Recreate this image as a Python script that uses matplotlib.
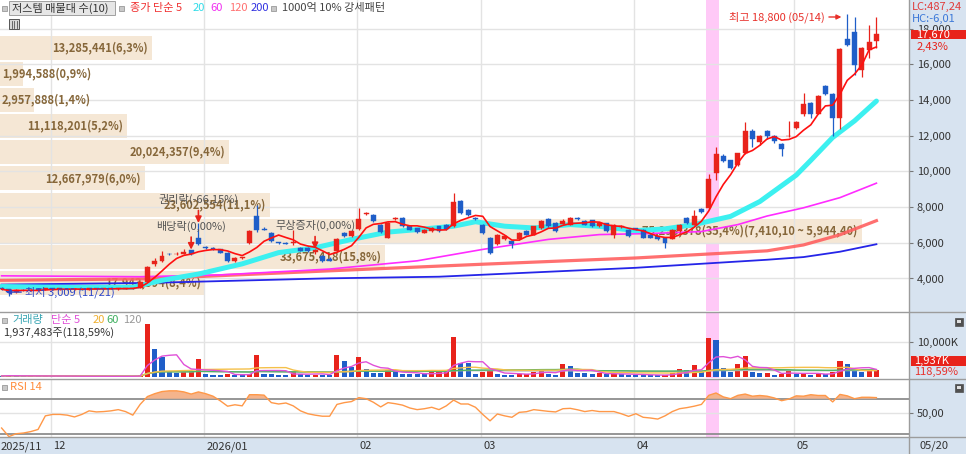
import numpy as np
import pandas as pd
import matplotlib
matplotlib.use("Agg")
import matplotlib.pyplot as plt
from matplotlib.patches import Rectangle
from matplotlib.lines import Line2D
import matplotlib.transforms as mtrans
from matplotlib.ticker import FuncFormatter

plt.rcParams['font.family'] = ['Noto Sans CJK KR', 'DejaVu Sans']

# ---------------- data (daily, 2025-11-20 .. 2026-05-20) ----------------
opens = [
    3450, 3400, 3250, 3350, 3330, 3370, 3350, 3440, 3400, 3420,
    3390, 3410, 3380, 3450, 3420, 3440, 3410, 3430, 3450, 3480,
    3800, 4800, 4990, 5380, 5350, 5400, 5580, 6280, 5760, 5730,
    5630, 5450, 4990, 5150, 5970, 7480, 6760, 6560, 6020, 5990,
    6000, 5730, 5720, 5480, 5260, 5100, 5540, 6560, 6380, 6750,
    7600, 7570, 7020, 6280, 7350, 7390, 6920, 6830, 6560, 6650,
    6920, 7020, 6920, 8360, 7850, 7400, 7020, 6280, 5910, 6190,
    6090, 6190, 6650, 6460, 6830, 7330, 7110, 7070, 7020, 7380,
    7200, 7290, 6920, 7110, 6460, 6880, 6740, 6830, 6740, 6460,
    6370, 6280, 6230, 6650, 7390, 7020, 7890, 7940, 9910, 10890,
    10620, 10340, 11020, 12280, 11630, 12240, 12000, 11540, 11960, 12430,
    13200, 13850, 13240, 14770, 14310, 13010, 17440, 17810, 15690, 16800,
    17300]
highs = [
    3500, 3420, 3400, 3420, 3400, 3420, 3480, 3480, 3450, 3460,
    3440, 3450, 3470, 3480, 3460, 3470, 3450, 3480, 3480, 3850,
    4700, 5170, 5540, 5420, 5480, 5650, 5620, 7110, 5800, 5760,
    5660, 5480, 5200, 5230, 6700, 8130, 6900, 6600, 6060, 6050,
    6700, 5760, 5760, 5650, 5300, 5200, 6250, 6600, 6700, 7940,
    7700, 7620, 7050, 7150, 7450, 7420, 6950, 6850, 6780, 6900,
    6950, 7050, 8770, 8400, 7900, 7450, 7050, 6300, 6480, 6420,
    6120, 6600, 6700, 6950, 7250, 7380, 7150, 7350, 7450, 7450,
    7250, 7300, 7150, 7130, 7050, 6980, 6800, 6850, 6760, 6480,
    6400, 6300, 6760, 7050, 7420, 7850, 7950, 9880, 11350, 11000,
    10650, 11050, 12740, 12400, 12050, 12300, 12050, 11600, 12830, 12800,
    14400, 13900, 14300, 14850, 14400, 16900, 18800, 18650, 16950, 18180,
    18650]
lows = [
    3380, 3009, 3200, 3300, 3290, 3330, 3340, 3380, 3360, 3380,
    3350, 3370, 3370, 3400, 3390, 3400, 3380, 3400, 3420, 3460,
    3780, 4700, 4950, 5300, 5330, 5380, 5300, 5880, 5680, 5600,
    5420, 4950, 4950, 5120, 5950, 6620, 6700, 6050, 5950, 5950,
    5900, 5520, 5500, 5400, 4950, 4960, 5500, 6300, 6350, 6700,
    7550, 7150, 6550, 6250, 7300, 6900, 6720, 6550, 6540, 6630,
    6620, 6700, 6880, 7600, 7500, 7290, 6500, 5360, 5880, 6150,
    5730, 6150, 6430, 6440, 6800, 6900, 6620, 7050, 7000, 7300,
    7000, 6900, 6900, 6620, 6280, 6850, 6350, 6720, 6250, 6250,
    6150, 5730, 6200, 6600, 7080, 7000, 7650, 7900, 9510, 10550,
    10150, 10300, 10990, 11350, 11500, 11800, 11600, 10890, 11900, 12350,
    13100, 13000, 13200, 14300, 12000, 12370, 17000, 15420, 15270, 16340,
    16900]
closes = [
    3400, 3250, 3350, 3330, 3370, 3350, 3440, 3400, 3420, 3390,
    3410, 3380, 3450, 3420, 3440, 3410, 3430, 3460, 3460, 3780,
    4620, 4990, 5260, 5350, 5390, 5480, 5360, 5910, 5720, 5640,
    5450, 4990, 5170, 5170, 6650, 6700, 6740, 6090, 5990, 5960,
    6060, 5540, 5560, 5620, 4990, 5000, 6190, 6370, 6650, 7330,
    7630, 7200, 6590, 7110, 7390, 6920, 6740, 6590, 6740, 6850,
    6650, 6800, 8310, 7670, 7570, 7310, 6560, 5450, 6460, 6380,
    5910, 6560, 6460, 6920, 7200, 6920, 6650, 7200, 7390, 7340,
    7020, 6920, 7110, 6650, 7020, 6920, 6370, 6740, 6280, 6280,
    6190, 6000, 6740, 7020, 7110, 7480, 7700, 9600, 10990, 10580,
    10210, 11020, 12240, 11820, 12000, 12000, 11690, 11260, 12000, 12790,
    13790, 13200, 14220, 14340, 13010, 16860, 17080, 15970, 16890, 17250,
    17670]
volumes_k = [
    300, 420, 350, 250, 300, 220, 380, 260, 240, 200,
    230, 180, 260, 210, 190, 170, 200, 230, 250, 480,
    15060, 7900, 5720, 1430, 1140, 1430, 1620, 4950, 760, 700,
    680, 750, 700, 480, 760, 6190, 950, 760, 480, 470,
    1620, 760, 660, 700, 660, 650, 6190, 4480, 2860, 5530,
    2380, 1240, 1140, 2100, 1430, 950, 760, 750, 740, 1430,
    1430, 1440, 11300, 3930, 3900, 935, 1400, 1680, 935, 650,
    470, 935, 940, 1400, 2340, 935, 470, 3550, 3000, 1120,
    1100, 750, 1120, 750, 935, 750, 650, 640, 630, 470,
    460, 470, 1120, 2340, 2060, 3270, 1400, 10940, 10470, 2620,
    1400, 3740, 5800, 1400, 1120, 1130, 470, 935, 1870, 935,
    940, 470, 935, 750, 1400, 4490, 3550, 2060, 1500, 1633.766,
    1937.483]
rsi14 = [
    29, 17, 21, 22, 24, 27, 46, 48, 48, 47,
    44.5, 48, 53, 51.5, 52, 53, 54.7, 52, 47, 62,
    73, 77, 80, 81, 81, 79.5, 76.5, 79.5, 77, 73.5,
    67, 59.5, 61.5, 60, 75.6, 75.6, 75, 64.5, 62.6, 64,
    60, 53, 49, 47, 45.5, 45.5, 62, 64.5, 66, 71.5,
    70, 65, 58.5, 64.5, 63, 61, 57, 54.7, 56, 58,
    54.7, 60, 68, 62.6, 62.6, 58, 48, 39, 48.6, 46,
    44, 50.9, 51.8, 54.7, 53.5, 52.3, 51.5, 56, 56.5, 54.5,
    52, 53.5, 52, 52, 52, 49, 45.3, 49, 44, 43,
    41.5, 46, 52, 56, 57.5, 59.5, 62, 74.7, 78, 72.5,
    70, 74.7, 76.5, 73.5, 74.5, 73.5, 71, 67.2, 69.5, 74,
    73.5, 75.6, 74.5, 74.5, 65.5, 76, 74, 70, 72, 72,
    71.5]

# moving averages (day index, value)
ma20_idx = [0, 10, 18, 22, 27, 33, 38, 43, 48, 53, 57, 62, 65, 69, 73, 78, 82, 87, 91, 95, 100, 104, 109, 111, 114, 117, 120]
ma20_val = [3550, 3500, 3510, 3900, 4250, 4820, 5450, 5720, 6190, 6600, 6740, 6930, 7180, 6930, 6830, 7020, 6920, 6680, 6780, 7020, 7480, 8310, 9790, 10620, 11900, 12830, 13940]
ma60_idx = [0, 19, 30, 45, 57, 66, 75, 82, 89, 96, 101, 105, 110, 115, 120]
ma60_val = [4150, 4100, 4200, 4530, 4990, 5630, 6190, 6460, 6520, 6630, 7020, 7500, 7960, 8530, 9340]
ma120_idx = [0, 20, 45, 66, 87, 96, 105, 110, 115, 120]
ma120_val = [3900, 3980, 4430, 4800, 5150, 5350, 5550, 5880, 6450, 7240]
ma200_idx = [0, 20, 45, 60, 87, 105, 110, 115, 120]
ma200_val = [3660, 3750, 4010, 4100, 4600, 5050, 5200, 5500, 5920]

# volume profile (매물대), bottom -> top
vp_volumes = [17943594, 33675418, 75293378, 23602554, 12667979, 20024357, 11118201, 2957888, 1994588, 13285441]
vp_pcts = [8.4, 15.8, 35.4, 11.1, 6.0, 9.4, 5.2, 1.4, 0.9, 6.3]
vp_low, vp_high = 3013.0, 17670.0

month_labels = ['2025/11', '12', '2026/01', '02', '03', '04', '05']
month_start = [0, 7, 28, 49, 66, 87, 109]
events_idx = [26, 27, 43]
events_txt = ['배당락(0,00%)', '권리락(-66,15%)', '무상증자(0,00%)']
low_date, high_date, last_date = '11/21', '05/14', '05/20'
highlight_days = [97, 98]
lc_hc = ['LC:487,24', 'HC:-6,01']

# ---------------- styling ----------------
W, H = 966, 454
RED, BLUE = '#e8231b', '#1f5ec8'
STRIP = '#d7e3f0'
GRID = '#e3e3e3'
BROWN = '#86673a'

def dc(s):
    return s.replace('.', ',')

fig = plt.figure(figsize=(W / 100, H / 100), dpi=100)

def fr(x0, y0, x1, y1):
    return [x0 / W, 1 - y1 / H, (x1 - x0) / W, (y1 - y0) / H]

fig.patches.append(Rectangle((909 / W, 0), (W - 909) / W, 1, transform=fig.transFigure,
                             fc=STRIP, ec='none', zorder=-2))
fig.patches.append(Rectangle((0, 0), 1, 17 / H, transform=fig.transFigure,
                             fc=STRIP, ec='none', zorder=-2))

ax = fig.add_axes(fr(0, 0, 909, 311))
axv = fig.add_axes(fr(0, 312, 909, 378), sharex=ax)
axr = fig.add_axes(fr(0, 379, 909, 437), sharex=ax)
axx = fig.add_axes(fr(0, 437, 909, 454), sharex=ax)

n = len(closes)
idx = np.arange(n)
o = np.array(opens, float); c = np.array(closes, float)
h = np.array(highs, float); l = np.array(lows, float)
v = np.array(volumes_k, float)
rsi = np.array(rsi14, float)
month_edges = np.array(month_start[1:]) - 0.25

for a in (ax, axv, axr, axx):
    for s in a.spines.values():
        s.set_visible(False)
    a.set_xticks(month_edges)
    a.tick_params(axis='x', length=0, labelbottom=False)
    a.set_axisbelow(True)
ax.set_xlim(-0.22, 124.47)

# highlight band
for a in (ax, axv, axr):
    a.axvspan(highlight_days[0] - 0.4, highlight_days[-1] + 0.4, color='#ffc9f7', zorder=0.3, lw=0)

# ---------------- main panel ----------------
ax.set_ylim(2179, 19602)
ax.set_yticks(np.arange(4000, 18001, 2000))
ax.yaxis.tick_right()
ax.yaxis.set_major_formatter(FuncFormatter(lambda x, p: f'{x:,.0f}'))
ax.tick_params(axis='y', length=3, width=0.8, color='#777777', pad=2.5, labelsize=8, labelcolor='#333333')
ax.grid(True, color=GRID, lw=1)

# volume profile bars
edges = np.linspace(vp_low, vp_high, len(vp_volumes) + 1)
step = edges[1] - edges[0]
vmax = max(vp_volumes)
btr = mtrans.blended_transform_factory(ax.transAxes, ax.transData)
imax = int(np.argmax(vp_volumes))
for k, (vol, pct) in enumerate(zip(vp_volumes, vp_pcts)):
    frac = vol / vmax * 0.948
    ylo = edges[k] + step * 0.04
    ax.add_patch(Rectangle((0, ylo), frac, step * 0.92, transform=btr, fc='#f5e7d5', ec='none', zorder=0.5))
    label = f'{vol:,}({pct:.1f}%)'
    if k == imax:
        label += f'({edges[k + 1]:,.2f} ~ {edges[k]:,.2f})'
    label = dc(label)
    yc = edges[k] + step / 2
    if frac * 909 < 100:
        ax.text(2 / 909, yc, label, transform=btr, ha='left', va='center', fontsize=8,
                color=BROWN, fontweight='bold', zorder=1)
    else:
        ax.text(frac - 4 / 909, yc, label, transform=btr, ha='right', va='center', fontsize=8,
                color=BROWN, fontweight='bold', zorder=1)

# moving averages
ax.plot(ma200_idx, ma200_val, color='#2525e8', lw=1.3, zorder=2)
ax.plot(ma120_idx, ma120_val, color='#ff6060', lw=2.3, alpha=0.9, zorder=2.1)
ax.plot(ma60_idx, ma60_val, color='#ff2cff', lw=1.2, zorder=2.2)
ax.plot(ma20_idx, ma20_val, color='#3cf0f0', lw=3.6, zorder=2.3, solid_capstyle='round')

# candles
up = c >= o
col = np.where(up, RED, BLUE)
ax.vlines(idx, l, h, colors=col, lw=0.9, zorder=4)
body_lo = np.minimum(o, c)
body_h = np.maximum(np.abs(c - o), 45)
ax.bar(idx, body_h, bottom=body_lo, width=0.68, color=col, edgecolor=col, lw=0.3, zorder=4.5)

ma5 = pd.Series(c).rolling(5, min_periods=1).mean()
ax.plot(idx, ma5, color='#ff1010', lw=1.2, zorder=5)

# events
for ei, et in zip(events_idx, events_txt):
    ax.annotate(et, xy=(ei, h[ei]), xytext=(0, 17), textcoords='offset points',
                ha='center', va='center', fontsize=8, color='#555555', zorder=6,
                arrowprops=dict(arrowstyle='-|>', color='#e8231b', lw=1.2, mutation_scale=9,
                                shrinkA=2, shrinkB=0))

# low / high markers
li = int(np.argmin(l))
ax.annotate(f'최저 {l[li]:,.0f} ({low_date})', xy=(li - 0.4, l[li] + 230), xytext=(14, 0),
            textcoords='offset points', ha='left', va='center', fontsize=8, color='#3048c8', zorder=6,
            arrowprops=dict(arrowstyle='-|>', color='#3048c8', lw=1, mutation_scale=7, shrinkA=1, shrinkB=0))
hi = int(np.argmax(h))
ax.annotate(f'최고 {h[hi]:,.0f} ({high_date})', xy=(hi - 0.8, h[hi] - 150), xytext=(-12, 0),
            textcoords='offset points', ha='right', va='center', fontsize=8, color='#e8302a', zorder=6,
            arrowprops=dict(arrowstyle='-|>', color='#e8302a', lw=1, mutation_scale=7, shrinkA=1, shrinkB=0))

# current price box
ax.add_patch(Rectangle((1.002, c[-1] - 230), 0.061, 470, transform=btr, clip_on=False,
                       fc=RED, ec='none', zorder=10))
ax.text(1.008, c[-1], f'{c[-1]:,.0f}', transform=btr, color='white', fontsize=8,
        va='center', ha='left', zorder=11, clip_on=False)
chg = (c[-1] / c[-2] - 1) * 100
ax.annotate(dc(f'{chg:.2f}%'), xy=(1.008, c[-1]), xycoords=btr, xytext=(0, -9),
            textcoords='offset points', color=RED, fontsize=8, va='center', ha='left',
            annotation_clip=False, zorder=11)

# ---------------- volume panel ----------------
axv.set_ylim(-280, 18310)
prev = np.concatenate([[np.inf], v[:-1]])
vcol = np.where(v >= prev, RED, BLUE)
axv.bar(idx, v, width=0.7, color=vcol, zorder=3)
vs = pd.Series(v)
axv.plot(idx, vs.rolling(120, min_periods=1).mean(), color='#b4b4b4', lw=1.0, zorder=4)
axv.plot(idx, vs.rolling(60, min_periods=1).mean(), color='#4cb464', lw=1.0, zorder=4)
axv.plot(idx, vs.rolling(20, min_periods=1).mean(), color='#f5c04a', lw=1.0, zorder=4)
axv.plot(idx, vs.rolling(5, min_periods=1).mean(), color='#e050d8', lw=1.0, zorder=4)
axv.set_yticks([10000])
axv.yaxis.tick_right()
axv.yaxis.set_major_formatter(FuncFormatter(lambda x, p: f'{x:,.0f}K'))
axv.tick_params(axis='y', length=3, width=0.8, color='#777777', pad=2.5, labelsize=8, labelcolor='#333333')
axv.grid(True, color=GRID, lw=1)

# ---------------- RSI panel ----------------
axr.set_ylim(16.43, 97.55)
axr.set_yticks([50])
axr.yaxis.tick_right()
axr.yaxis.set_major_formatter(FuncFormatter(lambda x, p: dc(f'{x:.2f}')))
axr.tick_params(axis='y', length=3, width=0.8, color='#777777', pad=2.5, labelsize=8, labelcolor='#333333')
axr.grid(True, color=GRID, lw=1)
axr.axhline(70, color='#8e8e8e', lw=1.3, zorder=2)
axr.axhline(20, color='#8e8e8e', lw=1.3, zorder=2)
axr.fill_between(idx, 70, rsi, where=rsi >= 70, interpolate=True, color='#f5b48c', lw=0, zorder=2.5)
axr.plot(idx, rsi, color='#ff9848', lw=1.0, zorder=3)

# ---------------- date strip ----------------
axx.set_facecolor(STRIP)
axx.set_ylim(0, 1)
axx.set_yticks([])
xl = ax.get_xlim()[0]
for k, (ms, lab) in enumerate(zip(month_start, month_labels)):
    xp = xl + 0.05 if k == 0 else ms - 0.25 + 0.3
    axx.text(xp, 0.45, lab, ha='left', va='center', fontsize=8, color='#333333')

# ---------------- figure-level text / separators ----------------
def ftxt(x, y, s, color='#333333', size=8, **kw):
    kw.setdefault('zorder', 8)
    return fig.text(x / W, 1 - y / H, s, color=color, fontsize=size, va='center', **kw)

def bullet(x, y):
    fig.patches.append(Rectangle((x / W, 1 - (y + 2.5) / H), 5 / W, 5 / H, transform=fig.transFigure,
                                 fc='#c8c8c8', ec='#8a8a8a', lw=0.5, zorder=5))

for yy in (311.5, 378.5, 437):
    fig.lines.append(Line2D([0, 1], [1 - yy / H] * 2, transform=fig.transFigure, color='#9c9c9c', lw=1, zorder=6))
fig.lines.append(Line2D([909 / W] * 2, [0, 1], transform=fig.transFigure, color='#9c9c9c', lw=1, zorder=6))

# main header
bullet(2, 8)
fig.patches.append(Rectangle((9 / W, 1 - 15 / H), 106 / W, 14 / H, transform=fig.transFigure,
                             fc='#e6e6e6', ec='#a0a0a0', lw=0.7, zorder=5))
ftxt(12, 8, '저스템 매물대 수(10)', '#333333')
bullet(119, 8)
ftxt(130, 8, '종가 단순 5', '#f03030')
ftxt(193, 8, '20', '#30dce8')
ftxt(210, 8, '60', '#f030f0')
ftxt(229, 8, '120', '#ff7070')
ftxt(251, 8, '200', '#3030e0')
bullet(271, 8)
ftxt(282, 8, '1000억 10% 강세패턴', '#444444')
# small grid icon
fig.patches.append(Rectangle((9 / W, 1 - 29 / H), 10 / W, 10 / H, transform=fig.transFigure,
                             fc='#d8d8d8', ec='#555555', lw=0.7, zorder=5))
for xx in (11.5, 14, 16.5):
    fig.lines.append(Line2D([xx / W] * 2, [1 - 28 / H, 1 - 21 / H], transform=fig.transFigure,
                            color='#555555', lw=0.6, zorder=6))

ftxt(912, 7, lc_hc[0], '#e03c3c')
ftxt(912, 19, lc_hc[1], '#3c78d8')

# volume header
bullet(2, 320)
ftxt(12, 320, '거래량', '#3aa6b4')
ftxt(51, 320, '단순 5', '#e050d8')
ftxt(93, 320, '20', '#f0b030')
ftxt(106, 320, '60', '#40b060')
ftxt(123, 320, '120', '#999999')
ratio = v[-1] / v[-2] * 100
ftxt(3, 333, dc(f'{int(round(v[-1] * 1000)):,}주({ratio:.2f}%)'), '#333333')
fig.patches.append(Rectangle((911 / W, 1 - 366 / H), 55 / W, 10 / H, transform=fig.transFigure,
                             fc=RED, ec='none', zorder=5))
ftxt(914, 361, f'{int(v[-1]):,}K', 'white')
ftxt(914, 372, dc(f'{ratio:.2f}%'), '#e8302a')

# RSI header
bullet(2, 387)
ftxt(10, 387, 'RSI 14', '#ff8c3a')

# panel icons
for yy in (322, 388):
    fig.patches.append(Rectangle((955 / W, 1 - (yy + 4) / H), 8 / W, 8 / H, transform=fig.transFigure,
                                 fc='#505050', ec='#505050', lw=0.5, zorder=5))
    fig.patches.append(Rectangle((957 / W, 1 - (yy + 1) / H), 4 / W, 3 / H, transform=fig.transFigure,
                                 fc='#e0e0e0', ec='none', zorder=6))

ftxt(920, 446, last_date, '#333333')

fig.savefig('out.png', dpi=100)
